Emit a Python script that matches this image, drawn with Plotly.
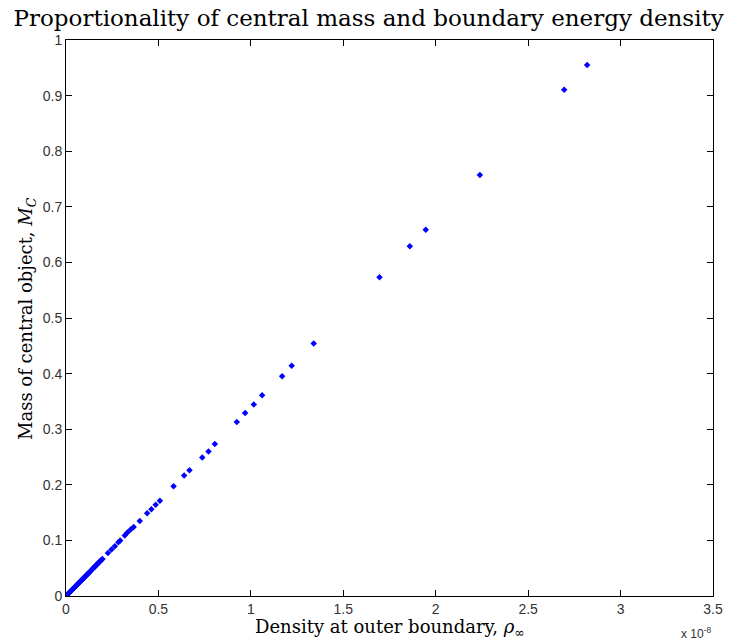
import plotly.graph_objects as go

# Density at outer boundary (units of 1e-8)
density = [0.000, 0.003, 0.006, 0.010, 0.013, 0.017, 0.021, 0.025, 0.028, 0.032,
           0.036, 0.040, 0.044, 0.048, 0.052, 0.056, 0.060, 0.064, 0.068, 0.072,
           0.076, 0.080, 0.084, 0.088, 0.092, 0.096, 0.100, 0.104, 0.108, 0.112,
           0.116, 0.120, 0.124, 0.128, 0.132, 0.143, 0.147, 0.152, 0.157, 0.162,
           0.166, 0.171, 0.176, 0.181, 0.186, 0.191, 0.197,
           0.227, 0.246, 0.264, 0.283, 0.293, 0.318, 0.332, 0.350, 0.366, 0.399,
           0.439, 0.462, 0.485, 0.508, 0.582, 0.639, 0.668, 0.737, 0.771, 0.805,
           0.924, 0.969, 1.016, 1.061, 1.169, 1.221, 1.340, 1.696, 1.860, 1.946,
           2.239, 2.695, 2.819]
# Mass of central object
mass = [0.0000, 0.0010, 0.0020, 0.0034, 0.0044, 0.0058, 0.0071, 0.0085, 0.0095, 0.0108,
        0.0122, 0.0135, 0.0149, 0.0162, 0.0176, 0.0190, 0.0203, 0.0217, 0.0230, 0.0244,
        0.0257, 0.0271, 0.0284, 0.0298, 0.0311, 0.0325, 0.0339, 0.0352, 0.0366, 0.0379,
        0.0393, 0.0406, 0.0420, 0.0433, 0.0447, 0.0484, 0.0498, 0.0515, 0.0531, 0.0548,
        0.0562, 0.0579, 0.0596, 0.0613, 0.0630, 0.0647, 0.0667,
        0.0775, 0.0835, 0.0894, 0.0966, 0.0997, 0.1087, 0.1140, 0.1194, 0.1240, 0.1350,
        0.1488, 0.1560, 0.1640, 0.1715, 0.1975, 0.2166, 0.2260, 0.2490, 0.2600, 0.2735,
        0.3131, 0.3293, 0.3444, 0.3612, 0.3954, 0.4139, 0.4542, 0.5735, 0.6290, 0.6586,
        0.7570, 0.9106, 0.9550]

x_ticks = [0, 0.5, 1, 1.5, 2, 2.5, 3, 3.5]
x_tick_labels = ["0", "0.5", "1", "1.5", "2", "2.5", "3", "3.5"]
y_ticks = [0, 0.1, 0.2, 0.3, 0.4, 0.5, 0.6, 0.7, 0.8, 0.9, 1]
y_tick_labels = ["0", "0.1", "0.2", "0.3", "0.4", "0.5", "0.6", "0.7", "0.8", "0.9", "1"]

title_text = "Proportionality of central mass and boundary energy density"
x_label = "Density at outer boundary, <i>ρ</i><sub>∞</sub>"
y_label = "Mass of central object, <i>M</i><sub><i>C</i></sub>"
exponent_label = "x 10<sup>-8</sup>"

serif = "DejaVu Serif, Liberation Serif, serif"
sans = "Liberation Sans, Arial, sans-serif"

fig = go.Figure()
fig.add_trace(go.Scatter(
    x=density, y=mass, mode="markers",
    marker=dict(symbol="diamond", size=5, color="#0000ff", line=dict(width=0)),
    showlegend=False, hoverinfo="x+y"))

axis_common = dict(
    showgrid=False, zeroline=False, showline=True, linecolor="black", linewidth=1,
    mirror="ticks", ticks="inside", ticklen=6, tickcolor="black", tickwidth=1,
    tickfont=dict(family=sans, size=14, color="#333333"), automargin=False,
)

fig.update_layout(
    width=730, height=641,
    paper_bgcolor="white", plot_bgcolor="white",
    margin=dict(l=66, r=17, t=40, b=45, autoexpand=False),
    title=dict(text=title_text, x=0.505, xref="container", xanchor="center",
               y=0.972, yref="container", yanchor="middle",
               font=dict(family=serif, size=23, color="black")),
    xaxis=dict(range=[0, 3.5], tickmode="array", tickvals=x_ticks, ticktext=x_tick_labels,
               **axis_common),
    yaxis=dict(range=[0, 1], tickmode="array", tickvals=y_ticks, ticktext=y_tick_labels,
               **axis_common),
)

fig.add_annotation(text=x_label, xref="paper", yref="paper", x=0.501, y=-0.058,
                   xanchor="center", yanchor="middle", showarrow=False,
                   font=dict(family=serif, size=18, color="black"))
fig.add_annotation(text=y_label, xref="paper", yref="paper", x=-0.0603, y=0.5,
                   xanchor="center", yanchor="middle", showarrow=False, textangle=-90,
                   font=dict(family=serif, size=18, color="black"))
fig.add_annotation(text=exponent_label, xref="paper", yref="paper", x=1.0, y=-0.067,
                   xanchor="right", yanchor="middle", showarrow=False,
                   font=dict(family=sans, size=12, color="#333333"))

fig.write_html("out.html", config={"displayModeBar": False})

# remove the default page margin so the figure sits at the window's top-left corner
with open("out.html", "r", encoding="utf-8") as f:
    html = f.read()
html = html.replace("<body>", '<body style="margin:0;padding:0;overflow:hidden">', 1)
with open("out.html", "w", encoding="utf-8") as f:
    f.write(html)
